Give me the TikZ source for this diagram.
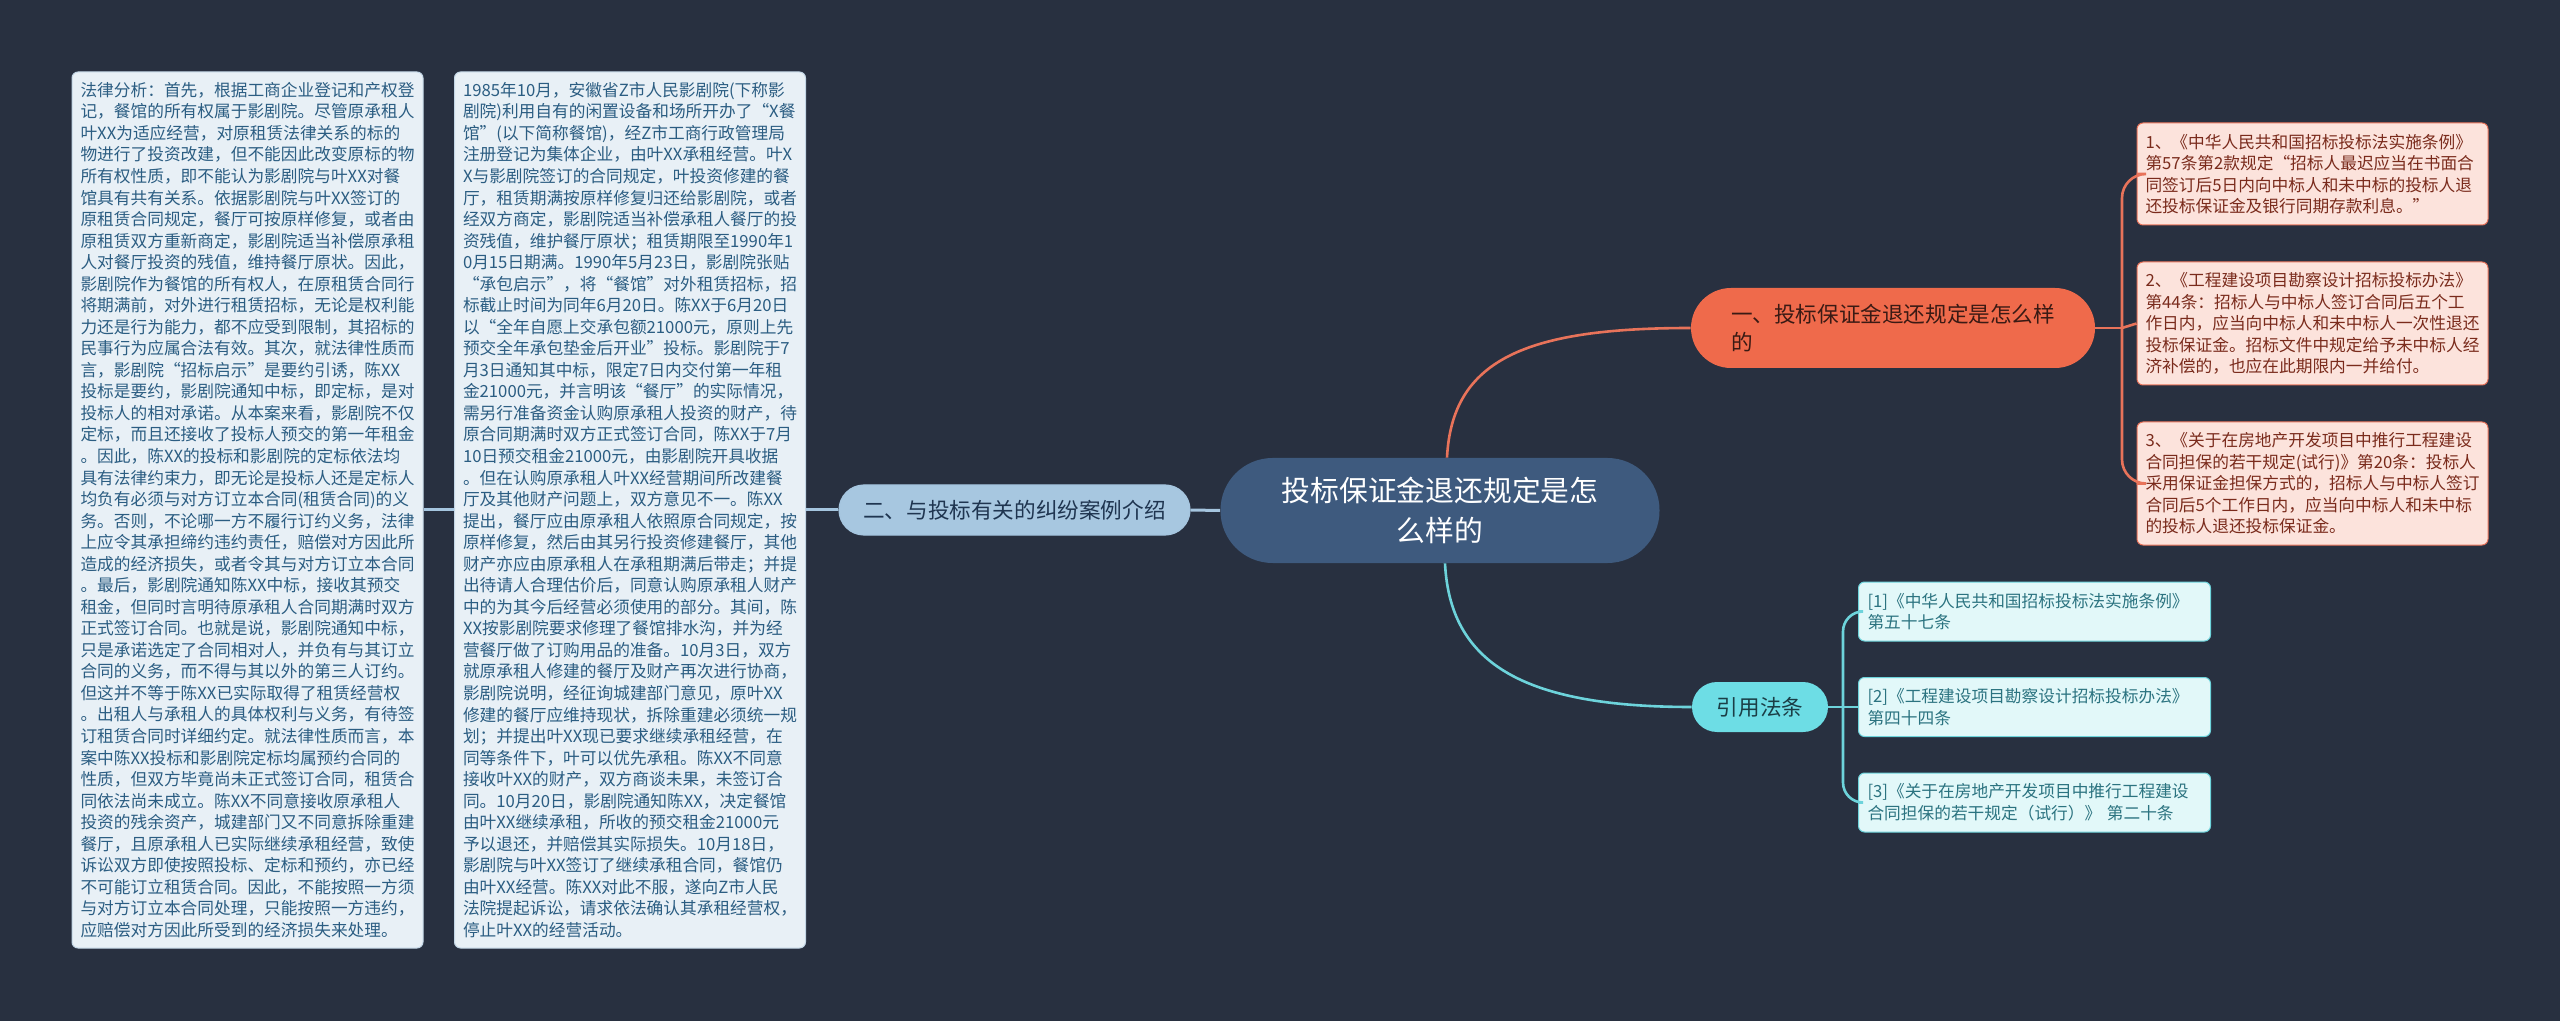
\documentclass[tikz,border=0pt]{standalone}
\usepackage{fontspec}
\usepackage{xcolor}
\usepackage{tikz}
\usetikzlibrary{positioning, calc}
\setmainfont{Noto Sans CJK SC}
\newfontfamily\cjk{Noto Sans CJK SC}
\definecolor{bgdark}{HTML}{283040}
\definecolor{rootblue}{HTML}{3E5A7E}
\definecolor{erfill}{HTML}{A7C7E0}
\definecolor{ertext}{HTML}{1F3550}
\definecolor{cardfill}{HTML}{E8F0F6}
\definecolor{cardtext}{HTML}{2B5D82}
\definecolor{cardline}{HTML}{C3D6E6}
\definecolor{blueline}{HTML}{A5C5DF}
\definecolor{yifill}{HTML}{EF6A4B}
\definecolor{yitext}{HTML}{3A1A14}
\definecolor{pinkfill}{HTML}{FCE3DC}
\definecolor{pinktext}{HTML}{7A2B1C}
\definecolor{orangeline}{HTML}{E8735A}
\definecolor{cyanfill}{HTML}{6DDDE5}
\definecolor{cyantext}{HTML}{1B3E46}
\definecolor{cyancard}{HTML}{E2F8F9}
\definecolor{cyancardtext}{HTML}{2B7380}
\definecolor{cyanline}{HTML}{6DD3DB}
\tikzset{
  cardfont/.style={font=\cjk\fontsize{8.35pt}{10.77pt}\selectfont},
  topicfont/.style={font=\cjk\fontsize{10.8pt}{14pt}\selectfont},
  rootnode/.style={fill=rootblue, text=white, rounded corners=26pt, align=center,
    font=\cjk\fontsize{14.4pt}{20pt}\selectfont, minimum width=219.5pt, minimum height=52.5pt},
  topic/.style={topicfont, rounded corners=12.5pt, minimum height=25pt, inner xsep=6pt},
  erbox/.style={topic, fill=erfill, text=ertext, draw=blueline, line width=0.6pt, minimum width=175.5pt},
  yibox/.style={topicfont, fill=yifill, text=yitext, rounded corners=20pt, align=left,
    text width=162pt, inner xsep=20pt, minimum height=40pt},
  citebox/.style={topic, fill=cyanfill, text=cyantext, minimum width=68pt},
  textcard/.style={cardfont, draw=cardline, line width=0.5pt, fill=cardfill, text=cardtext,
    rounded corners=3pt, align=left, text width=167pt, inner xsep=4.25pt, minimum height=438pt},
  pinkcard/.style={cardfont, draw=orangeline, line width=0.5pt, fill=pinkfill, text=pinktext,
    rounded corners=3pt, align=left, text width=167pt, inner xsep=4.25pt},
  cyancardbox/.style={cardfont, draw=cyanline, line width=0.5pt, fill=cyancard, text=cyancardtext,
    rounded corners=3pt, align=left, text width=167pt, inner xsep=4.5pt, minimum height=29.5pt},
  blink/.style={draw=blueline, line width=1.5pt},
  olink/.style={draw=orangeline, line width=1.3pt},
  clink/.style={draw=cyanline, line width=1.3pt},
}

\begin{document}
\begin{tikzpicture}[x=0.5pt, y=-0.5pt]
  \fill[bgdark] (0,0) rectangle (2560,1021);
  \useasboundingbox (0,0) rectangle (2560,1021);

  \node[rootnode] (root) at (1440,510.5) {投标保证金退还规定是怎\\么样的};
  \node[erbox] (er) at (1014.5,510) {二、与投标有关的纠纷案例介绍};
  \node[yibox] (yi) at (1893,328) {一、投标保证金退还规定是怎么样\\的};
  \node[citebox] (cite) at (1760,707) {引用法条};

  \node[textcard] (case) at (630,510) {1985年10月，安徽省Z市人民影剧院(下称影\\
剧院)利用自有的闲置设备和场所开办了“X餐\\
馆”(以下简称餐馆)，经Z市工商行政管理局\\
注册登记为集体企业，由叶XX承租经营。叶X\\
X与影剧院签订的合同规定，叶投资修建的餐\\
厅，租赁期满按原样修复归还给影剧院，或者\\
经双方商定，影剧院适当补偿承租人餐厅的投\\
资残值，维护餐厅原状；租赁期限至1990年1\\
0月15日期满。1990年5月23日，影剧院张贴\\
“承包启示”，将“餐馆”对外租赁招标，招\\
标截止时间为同年6月20日。陈XX于6月20日\\
以“全年自愿上交承包额21000元，原则上先\\
预交全年承包垫金后开业”投标。影剧院于7\\
月3日通知其中标，限定7日内交付第一年租\\
金21000元，并言明该“餐厅”的实际情况，\\
需另行准备资金认购原承租人投资的财产，待\\
原合同期满时双方正式签订合同，陈XX于7月\\
10日预交租金21000元，由影剧院开具收据\\
。但在认购原承租人叶XX经营期间所改建餐\\
厅及其他财产问题上，双方意见不一。陈XX\\
提出，餐厅应由原承租人依照原合同规定，按\\
原样修复，然后由其另行投资修建餐厅，其他\\
财产亦应由原承租人在承租期满后带走；并提\\
出待请人合理估价后，同意认购原承租人财产\\
中的为其今后经营必须使用的部分。其间，陈\\
XX按影剧院要求修理了餐馆排水沟，并为经\\
营餐厅做了订购用品的准备。10月3日，双方\\
就原承租人修建的餐厅及财产再次进行协商，\\
影剧院说明，经征询城建部门意见，原叶XX\\
修建的餐厅应维持现状，拆除重建必须统一规\\
划；并提出叶XX现已要求继续承租经营，在\\
同等条件下，叶可以优先承租。陈XX不同意\\
接收叶XX的财产，双方商谈未果，未签订合\\
同。10月20日，影剧院通知陈XX，决定餐馆\\
由叶XX继续承租，所收的预交租金21000元\\
予以退还，并赔偿其实际损失。10月18日，\\
影剧院与叶XX签订了继续承租合同，餐馆仍\\
由叶XX经营。陈XX对此不服，遂向Z市人民\\
法院提起诉讼，请求依法确认其承租经营权，\\
停止叶XX的经营活动。};

  \node[textcard] (analysis) at (247.5,510) {法律分析：首先，根据工商企业登记和产权登\\
记，餐馆的所有权属于影剧院。尽管原承租人\\
叶XX为适应经营，对原租赁法律关系的标的\\
物进行了投资改建，但不能因此改变原标的物\\
所有权性质，即不能认为影剧院与叶XX对餐\\
馆具有共有关系。依据影剧院与叶XX签订的\\
原租赁合同规定，餐厅可按原样修复，或者由\\
原租赁双方重新商定，影剧院适当补偿原承租\\
人对餐厅投资的残值，维持餐厅原状。因此，\\
影剧院作为餐馆的所有权人，在原租赁合同行\\
将期满前，对外进行租赁招标，无论是权利能\\
力还是行为能力，都不应受到限制，其招标的\\
民事行为应属合法有效。其次，就法律性质而\\
言，影剧院“招标启示”是要约引诱，陈XX\\
投标是要约，影剧院通知中标，即定标，是对\\
投标人的相对承诺。从本案来看，影剧院不仅\\
定标，而且还接收了投标人预交的第一年租金\\
。因此，陈XX的投标和影剧院的定标依法均\\
具有法律约束力，即无论是投标人还是定标人\\
均负有必须与对方订立本合同(租赁合同)的义\\
务。否则，不论哪一方不履行订约义务，法律\\
上应令其承担缔约违约责任，赔偿对方因此所\\
造成的经济损失，或者令其与对方订立本合同\\
。最后，影剧院通知陈XX中标，接收其预交\\
租金，但同时言明待原承租人合同期满时双方\\
正式签订合同。也就是说，影剧院通知中标，\\
只是承诺选定了合同相对人，并负有与其订立\\
合同的义务，而不得与其以外的第三人订约。\\
但这并不等于陈XX已实际取得了租赁经营权\\
。出租人与承租人的具体权利与义务，有待签\\
订租赁合同时详细约定。就法律性质而言，本\\
案中陈XX投标和影剧院定标均属预约合同的\\
性质，但双方毕竟尚未正式签订合同，租赁合\\
同依法尚未成立。陈XX不同意接收原承租人\\
投资的残余资产，城建部门又不同意拆除重建\\
餐厅，且原承租人已实际继续承租经营，致使\\
诉讼双方即使按照投标、定标和预约，亦已经\\
不可能订立租赁合同。因此，不能按照一方须\\
与对方订立本合同处理，只能按照一方违约，\\
应赔偿对方因此所受到的经济损失来处理。};

  \node[pinkcard, minimum height=51pt] (law1) at (2312.5,174) {1、《中华人民共和国招标投标法实施条例》\\
第57条第2款规定“招标人最迟应当在书面合\\
同签订后5日内向中标人和未中标的投标人退\\
还投标保证金及银行同期存款利息。”};
  \node[pinkcard, minimum height=61.5pt] (law2) at (2312.5,323.5) {2、《工程建设项目勘察设计招标投标办法》\\
第44条：招标人与中标人签订合同后五个工\\
作日内，应当向中标人和未中标人一次性退还\\
投标保证金。招标文件中规定给予未中标人经\\
济补偿的，也应在此期限内一并给付。};
  \node[pinkcard, minimum height=61.5pt] (law3) at (2312.5,483.5) {3、《关于在房地产开发项目中推行工程建设\\
合同担保的若干规定(试行)》第20条：投标人\\
采用保证金担保方式的，招标人与中标人签订\\
合同后5个工作日内，应当向中标人和未中标\\
的投标人退还投标保证金。};

  \node[cyancardbox] (ref1) at (2034.5,611.5) {[1]《中华人民共和国招标投标法实施条例》\\第五十七条};
  \node[cyancardbox] (ref2) at (2034.5,707) {[2]《工程建设项目勘察设计招标投标办法》\\第四十四条};
  \node[cyancardbox] (ref3) at (2034.5,802.5) {[3]《关于在房地产开发项目中推行工程建设\\合同担保的若干规定（试行）》 第二十条};

  \coordinate (yifork) at (2122,328);
  \coordinate (citefork) at (1843,707);

  \draw[blink] (root.west) -- (er.east);
  \draw[blink] (er.west) -- (case.east);
  \draw[blink] (case.west) -- (analysis.east);
  \draw[olink] ([xshift=3.5pt]root.north) .. controls +(5,-98) and +(-165,0) .. (yi.west);
  \draw[clink] ([xshift=2.5pt]root.south) .. controls +(5,98) and +(-172,0) .. (cite.west);
  \draw[olink] (yi.east) -- (yifork);
  \draw[olink, rounded corners=12pt] (yifork) |- (law1.west);
  \draw[olink] (yifork) -- (law2.west);
  \draw[olink, rounded corners=12pt] (yifork) |- (law3.west);
  \draw[clink] (cite.east) -- (ref2.west);
  \draw[clink, rounded corners=10pt] (citefork) |- (ref1.west);
  \draw[clink, rounded corners=10pt] (citefork) |- (ref3.west);
\end{tikzpicture}
\end{document}
